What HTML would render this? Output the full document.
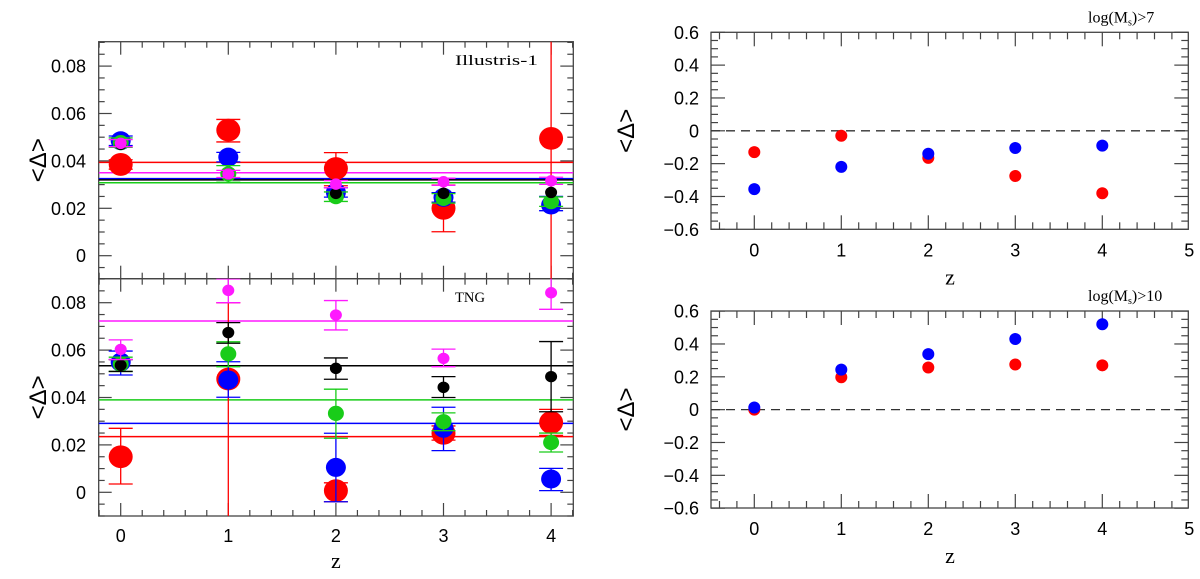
<!DOCTYPE html>
<html><head><meta charset="utf-8"><style>
html,body{margin:0;padding:0;background:#fff;}
svg{display:block;}
text{font-family:"Liberation Sans",sans-serif;fill:#000;}
</style></head><body>
<svg id="fig" width="1200" height="579" viewBox="0 0 1200 579">
<defs>
<clipPath id="cTL"><rect x="98.7" y="41.7" width="474.6" height="237"/></clipPath>
<clipPath id="cBL"><rect x="98.7" y="278.7" width="474.6" height="237.3"/></clipPath>
</defs>
</svg>
<script>
// ---------- data: z categories ----------
const zVals = [0, 1, 2, 3, 4];
// Illustris-1 (top-left)
const illRed = [0.0385, 0.053, 0.0368, 0.020, 0.0495];
const illRedLo = [0.0365, 0.048, 0.0295, 0.0101, -0.02];
const illRedHi = [0.0405, 0.0575, 0.0435, 0.0298, 0.12];
const illBlue = [0.0485, 0.0416, 0.0267, 0.0246, 0.0214];
const illBlueLo = [0.0465, 0.0396, 0.0247, 0.0226, 0.019];
const illBlueHi = [0.0505, 0.0436, 0.0287, 0.0266, 0.025];
const illGreen = [0.0477, 0.0345, 0.0249, 0.0242, 0.0228];
const illGreenLo = [0.0457, 0.031, 0.0229, 0.0222, 0.0208];
const illGreenHi = [0.0497, 0.038, 0.0269, 0.0262, 0.0248];
const illBlack = [0.047, 0.0345, 0.0263, 0.0263, 0.0267];
const illMagenta = [0.0474, 0.0345, 0.0302, 0.0312, 0.0316];
const illMagentaLo = [0.046, 0.033, 0.0287, 0.0297, 0.0301];
const illMagentaHi = [0.049, 0.036, 0.0317, 0.0327, 0.0331];
const illMeans = [0.0394, 0.035, 0.0325, 0.032, 0.0308]; // red, magenta, blue, black, green
// TNG (bottom-left)
const tngRed = [0.015, 0.0478, 0.0007, 0.0249, 0.0295];
const tngRedLo = [0.0035, -0.02, -0.004, 0.022, 0.024];
const tngRedHi = [0.027, 0.080, 0.004, 0.028, 0.035];
const tngBlue = [0.0549, 0.0474, 0.0105, 0.027, 0.0056];
const tngBlueLo = [0.0495, 0.0401, -0.004, 0.0176, 0.0007];
const tngBlueHi = [0.0596, 0.0551, 0.0249, 0.0359, 0.0101];
const tngGreen = [0.0541, 0.0584, 0.0333, 0.0298, 0.021];
const tngGreenLo = [0.051, 0.053, 0.0228, 0.026, 0.017];
const tngGreenHi = [0.057, 0.0635, 0.0435, 0.0335, 0.025];
const tngBlack = [0.0536, 0.0674, 0.0523, 0.0443, 0.0488];
const tngBlackLo = [0.051, 0.0629, 0.0477, 0.040, 0.034];
const tngBlackHi = [0.056, 0.0716, 0.0567, 0.0488, 0.0636];
const tngMagenta = [0.0603, 0.0852, 0.0748, 0.0565, 0.0842];
const tngMagentaLo = [0.056, 0.080, 0.0685, 0.053, 0.0772];
const tngMagentaHi = [0.0643, 0.090, 0.0809, 0.0604, 0.0905];
const tngMeans = [0.0235, 0.0723, 0.0291, 0.0534, 0.039]; // red, magenta, blue, black, green
// right panels
const m7Red = [-0.13, -0.03, -0.165, -0.275, -0.38];
const m7Blue = [-0.355, -0.22, -0.14, -0.105, -0.09];
const m10Red = [0.0, 0.197, 0.257, 0.275, 0.27];
const m10Blue = [0.013, 0.244, 0.338, 0.43, 0.52];
const leftYTicks = ["0", "0.02", "0.04", "0.06", "0.08"];
const rightYTicks = ["\u22120.6", "\u22120.4", "\u22120.2", "0", "0.2", "0.4", "0.6"];
const rightXTicks = ["0", "1", "2", "3", "4", "5"];

const NS = "http://www.w3.org/2000/svg";
const svg = document.getElementById("fig");
function mk(tag, attrs, parent) {
  const e = document.createElementNS(NS, tag);
  for (const k in attrs) e.setAttribute(k, attrs[k]);
  (parent || svg).appendChild(e);
  return e;
}
const COL = {red:"#ff0000", blue:"#0000ff", green:"#19cc19", black:"#000000", magenta:"#ff19ff"};

// axis functions
const xL = z => 120.7 + z * 107.6;
const yTL = v => 255.7 - v * 2370;
const yBL = v => 492.3 - v * 2370;
const xR = z => 754.3 + z * 87;
const yTR = v => 130.8 - v * 164.2;
const yBR = v => 409.65 - v * 164.2;

function line(x1, y1, x2, y2, stroke, w, parent) {
  return mk("line", {x1, y1, x2, y2, stroke, "stroke-width": w}, parent);
}

// ---------- left panel frames & ticks ----------
function leftFrame(top, bottom, yf, name) {
  const g = mk("g", {});
  
  
  mk("rect", {x:98.7, y:top, width:474.6, height:bottom-top, fill:"none", stroke:"#444", "stroke-width":1.3}, g);
  for (let i = -1; i <= 21; i++) {
    const z = i * 0.2; const x = xL(z);
    if (x < 99 || x > 573) continue;
    const maj = i % 5 === 0; const L = maj ? 13 : 6;
    line(x, top, x, top + L, "#444", 1.2, g);
    line(x, bottom, x, bottom - L, "#444", 1.2, g);
  }
  for (let k = -2; k <= 18; k++) {
    const v = k * 0.005; const y = yf(v);
    if (y < top - 0.5 || y > bottom + 0.5) continue;
    const maj = k % 4 === 0; const L = maj ? 13 : 6;
    line(98.7, y, 98.7 + L, y, "#444", 1.2, g);
    line(573.3, y, 573.3 - L, y, "#444", 1.2, g);
  }
  leftYTicks.forEach((t, i) => {
    const tx = mk("text", {x:86, y:yf(i * 0.02) + 6.5, "text-anchor":"end", "font-size":18}, g);
    tx.textContent = t;
    
    
  });
  const yt = mk("text", {x:0, y:0, "text-anchor":"middle", "font-size":24, transform:`translate(46,${(top+bottom)/2}) rotate(-90)`}, g);
  yt.textContent = "<\u0394>";
  
  
}
leftFrame(41.7, 278.7, yTL, "illustris");
leftFrame(278.7, 516, yBL, "tng");
zVals.forEach(z => {
  const t = mk("text", {x:xL(z), y:542, "text-anchor":"middle", "font-size":18});
  t.textContent = String(z);
  
  
});
{
  const t = mk("text", {x:xL(2), y:568, "text-anchor":"middle", "font-size":22, style:"font-family:'Liberation Serif',serif"});
  t.textContent = "z";
  
  
}
{
  const t = mk("text", {x:455, y:65, "font-size":15, textLength:83, lengthAdjust:"spacingAndGlyphs", style:"font-family:'Liberation Serif',serif"});
  t.textContent = "Illustris-1";
  
  
  const t2 = mk("text", {x:455, y:302, "font-size":15, textLength:30, lengthAdjust:"spacingAndGlyphs", style:"font-family:'Liberation Serif',serif"});
  t2.textContent = "TNG";
  
  
}

// ---------- left panel data ----------
function meanLines(vals, yf, clip, name) {
  const order = ["red", "magenta", "blue", "black", "green"];
  const g = mk("g", {"clip-path":`url(#${clip})`});
  vals.forEach((v, i) => {
    const l = line(98.7, yf(v), 573.3, yf(v), COL[order[i]], 1.5, g);
    
    
  });
}
function series(vals, lo, hi, color, r, yf, clip, name) {
  const g = mk("g", {"clip-path":`url(#${clip})`});
  
  
  vals.forEach((v, i) => {
    const x = xL(zVals[i]);
    if (lo && hi) {
      const eb = mk("g", {}, g);
      
      
      line(x, yf(lo[i]), x, yf(hi[i]), COL[color], 1.3, eb);
      line(x - 12, yf(lo[i]), x + 12, yf(lo[i]), COL[color], 1.3, eb);
      line(x - 12, yf(hi[i]), x + 12, yf(hi[i]), COL[color], 1.3, eb);
    }
    const c = mk("ellipse", {cx:x, cy:yf(v), rx:r, ry:r * 0.95, fill:COL[color]}, g);
    
    
  });
}
meanLines(illMeans, yTL, "cTL", "illustris");
series(illRed, illRedLo, illRedHi, "red", 12, yTL, "cTL", "illustris-red");
series(illBlue, illBlueLo, illBlueHi, "blue", 10, yTL, "cTL", "illustris-blue");
series(illGreen, illGreenLo, illGreenHi, "green", 8, yTL, "cTL", "illustris-green");
series(illBlack, null, null, "black", 6, yTL, "cTL", "illustris-black");
series(illMagenta, illMagentaLo, illMagentaHi, "magenta", 6, yTL, "cTL", "illustris-magenta");

meanLines(tngMeans, yBL, "cBL", "tng");
series(tngRed, tngRedLo, tngRedHi, "red", 12, yBL, "cBL", "tng-red");
series(tngBlue, tngBlueLo, tngBlueHi, "blue", 10, yBL, "cBL", "tng-blue");
series(tngGreen, tngGreenLo, tngGreenHi, "green", 8, yBL, "cBL", "tng-green");
series(tngBlack, tngBlackLo, tngBlackHi, "black", 6, yBL, "cBL", "tng-black");
series(tngMagenta, tngMagentaLo, tngMagentaHi, "magenta", 6, yBL, "cBL", "tng-magenta");

// ---------- right panels ----------
function rightPanel(top, yf, red, blue, title, name) {
  const bottom = top + 197;
  const g = mk("g", {});
  
  
  mk("rect", {x:711, y:top, width:477.3, height:197, fill:"none", stroke:"#444", "stroke-width":1.3}, g);
  for (let i = -2; i <= 25; i++) {
    const z = i * 0.2; const x = xR(z);
    if (x < 711.5 || x > 1188) continue;
    const L = i % 5 === 0 ? 14 : 7;
    line(x, top, x, top + L, "#444", 1.2, g);
    line(x, bottom, x, bottom - L, "#444", 1.2, g);
  }
  for (let k = -12; k <= 12; k++) {
    const y = yf(k * 0.05);
    const L = k % 4 === 0 ? 14 : 7;
    line(711, y, 711 + L, y, "#444", 1.2, g);
    line(1188.3, y, 1188.3 - L, y, "#444", 1.2, g);
  }
  rightYTicks.forEach((t, i) => {
    const tx = mk("text", {x:699, y:yf(-0.6 + i * 0.2) + 6.5, "text-anchor":"end", "font-size":18}, g);
    tx.textContent = t;
    
    
  });
  rightXTicks.forEach((t, i) => {
    const tx = mk("text", {x:xR(i), y:bottom + 27, "text-anchor":"middle", "font-size":18}, g);
    tx.textContent = t;
    
    
  });
  const xt = mk("text", {x:xR(2.25), y:bottom + 55, "text-anchor":"middle", "font-size":22, style:"font-family:'Liberation Serif',serif"}, g);
  xt.textContent = "z";
  
  
  const yt = mk("text", {x:0, y:0, "text-anchor":"middle", "font-size":24, transform:`translate(634,${(top+bottom)/2}) rotate(-90)`}, g);
  yt.textContent = "<\u0394>";
  
  
  const tt = mk("text", {x:1088, y:top - 10, "font-size":16, style:"font-family:'Liberation Serif',serif"}, g);
  tt.innerHTML = 'log(M<tspan font-size="10" dy="3">s</tspan><tspan dy="-3">)&gt;' + title + '</tspan>';
  
  
  const d = line(711, yf(0), 1188.3, yf(0), "#333", 1.3, g);
  d.setAttribute("stroke-dasharray", "9,6");
  
  
  red.forEach((v, i) => {
    const c = mk("circle", {cx:xR(zVals[i]), cy:yf(v), r:6, fill:COL.red}, g);
    
    
  });
  blue.forEach((v, i) => {
    const c = mk("circle", {cx:xR(zVals[i]), cy:yf(v), r:6, fill:COL.blue}, g);
    
    
  });
}
rightPanel(32.3, yTR, m7Red, m7Blue, "7", "mass7-panel");
rightPanel(311, yBR, m10Red, m10Blue, "10", "mass10-panel");
</script>
</body></html>
